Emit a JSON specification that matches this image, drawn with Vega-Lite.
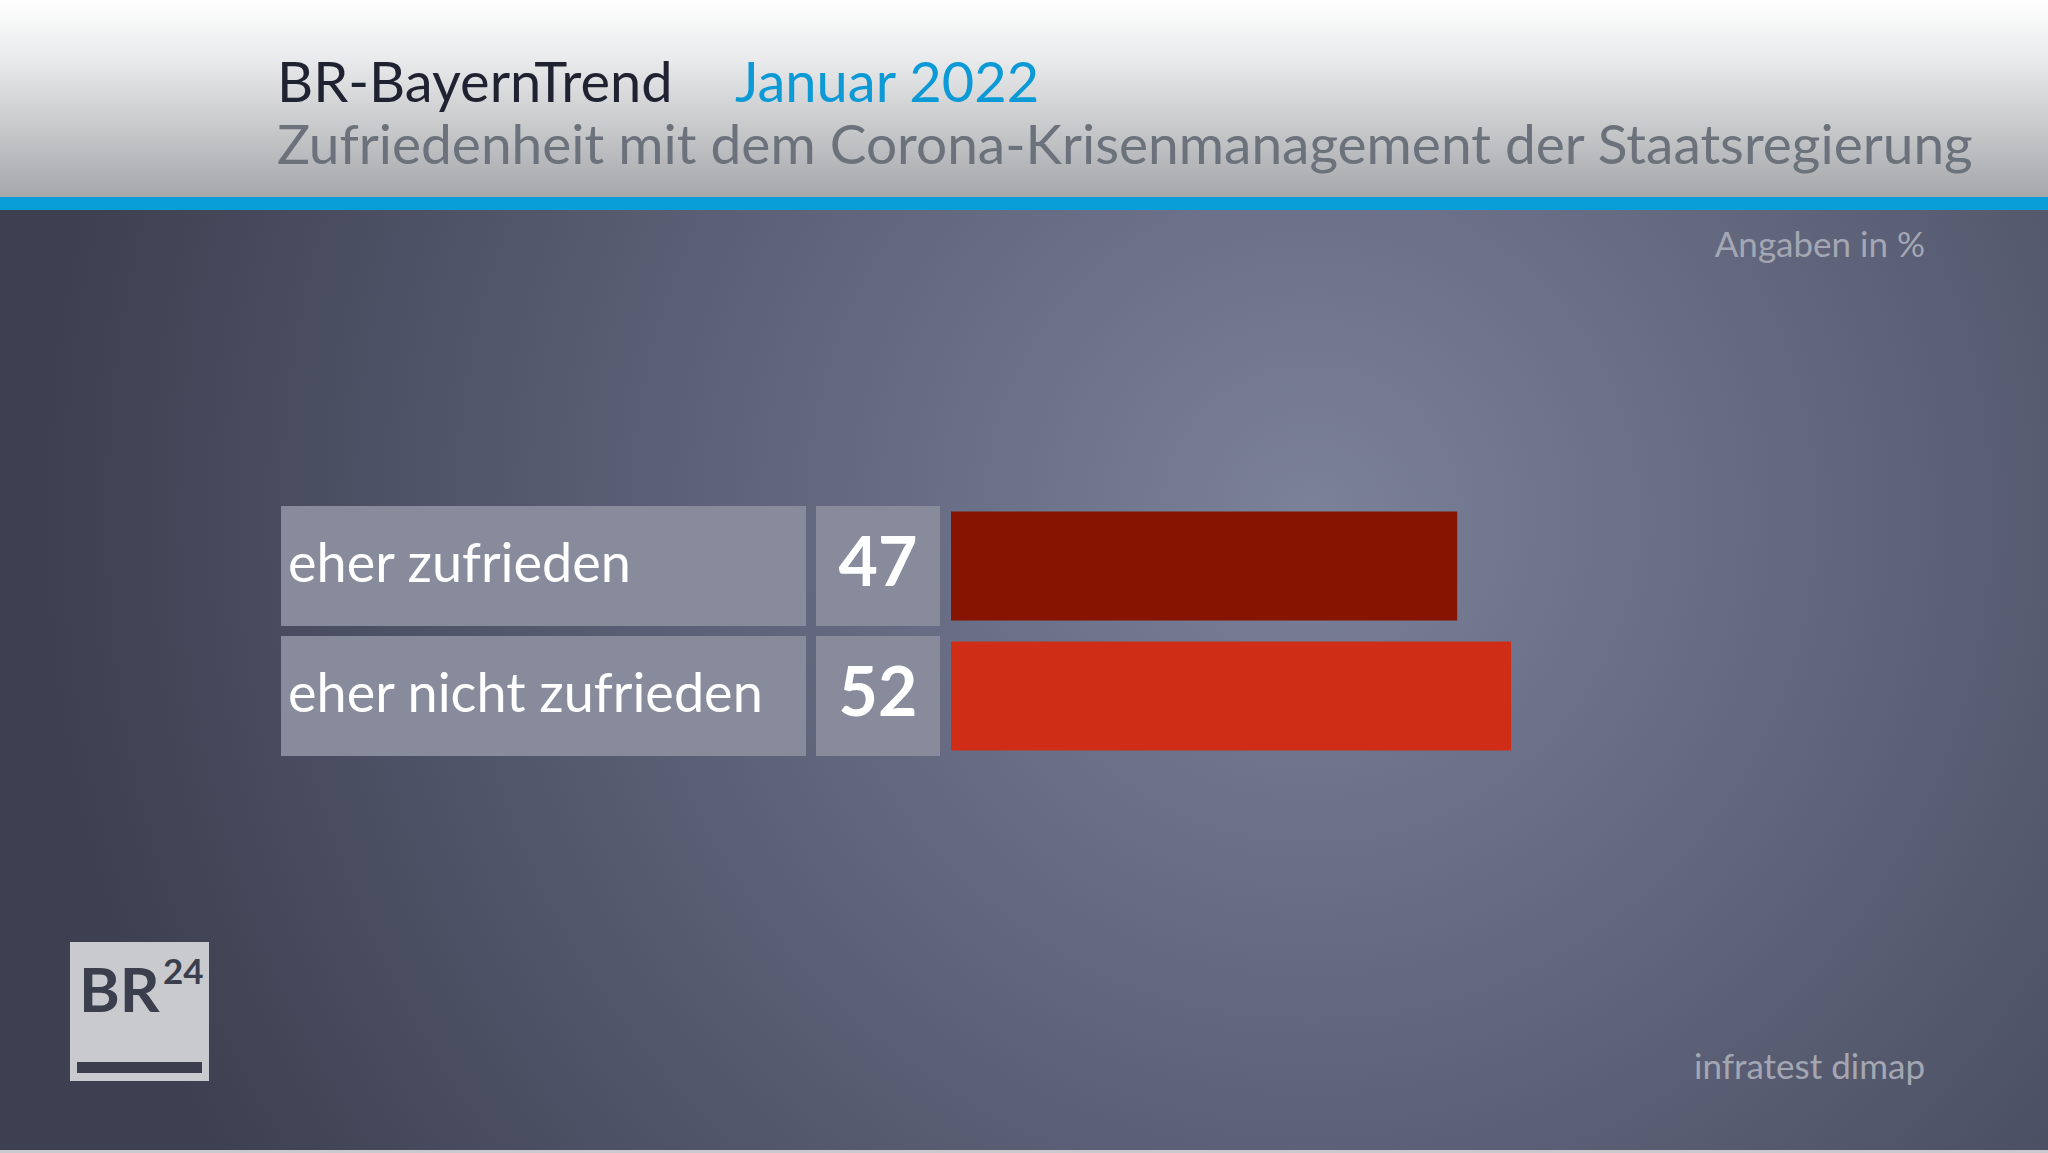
{
  "$schema": "https://vega.github.io/schema/vega-lite/v6.json",
  "width": 2048,
  "height": 1153,
  "autosize": {"type": "fit", "contains": "padding"},
  "padding": 0,
  "background": "#454a5e",
  "config": {"view": {"stroke": null}, "font": "Lato"},
  "layer": [
    {
      "data": {"values": [{}]},
      "mark": {"type": "rect", "fill": {"gradient": "radial", "x1": 0.64, "y1": 0.47, "r1": 0, "x2": 0.64, "y2": 0.47, "r2": 0.62, "stops": [{"offset": 0, "color": "#7b8199"}, {"offset": 0.45, "color": "#5f647b"}, {"offset": 1, "color": "#3d4050"}]}},
      "encoding": {"x": {"value": 0}, "x2": {"value": 2048}, "y": {"value": 0}, "y2": {"value": 1153}}
    },
    {
      "data": {"values": [{}]},
      "mark": {"type": "rect", "fill": "#c9cace"},
      "encoding": {"x": {"value": 0}, "x2": {"value": 2048}, "y": {"value": 1150}, "y2": {"value": 1153}}
    },
    {
      "data": {"values": [{}]},
      "mark": {"type": "rect", "fill": {"gradient": "linear", "x1": 0, "y1": 0, "x2": 0, "y2": 1, "stops": [{"offset": 0, "color": "#ffffff"}, {"offset": 0.3, "color": "#e9eaeb"}, {"offset": 1, "color": "#a5a7aa"}]}},
      "encoding": {"x": {"value": 0}, "x2": {"value": 2048}, "y": {"value": 0}, "y2": {"value": 197}}
    },
    {
      "data": {"values": [{}]},
      "mark": {"type": "rect", "fill": "#0a9ed8"},
      "encoding": {"x": {"value": 0}, "x2": {"value": 2048}, "y": {"value": 197}, "y2": {"value": 210}}
    },
    {
      "data": {"values": [{}]},
      "mark": {"type": "text", "text": "BR-BayernTrend", "font": "Lato", "fontSize": 56, "color": "#1f2231", "align": "left", "baseline": "alphabetic"},
      "encoding": {"x": {"value": 277}, "y": {"value": 102}}
    },
    {
      "data": {"values": [{}]},
      "mark": {"type": "text", "text": "Januar 2022", "font": "Lato", "fontSize": 56, "color": "#0b9ad6", "align": "left", "baseline": "alphabetic"},
      "encoding": {"x": {"value": 735}, "y": {"value": 102}}
    },
    {
      "data": {"values": [{}]},
      "mark": {"type": "text", "text": "Zufriedenheit mit dem Corona-Krisenmanagement der Staatsregierung", "font": "Lato", "fontSize": 55, "color": "#6b727c", "align": "left", "baseline": "alphabetic"},
      "encoding": {"x": {"value": 277}, "y": {"value": 164}}
    },
    {
      "data": {"values": [{}]},
      "mark": {"type": "text", "text": "Angaben in %", "font": "Lato", "fontSize": 35, "color": "#a4a7b3", "align": "right", "baseline": "alphabetic"},
      "encoding": {"x": {"value": 1925}, "y": {"value": 257}}
    },
    {
      "data": {"values": [{}]},
      "mark": {"type": "text", "text": "infratest dimap", "font": "Lato", "fontSize": 35, "color": "#a4a7b3", "align": "right", "baseline": "alphabetic"},
      "encoding": {"x": {"value": 1925}, "y": {"value": 1079}}
    },
    {
      "data": {"values": [{}]},
      "mark": {"type": "rect", "fill": "#c9cacd"},
      "encoding": {"x": {"value": 70}, "x2": {"value": 209}, "y": {"value": 942}, "y2": {"value": 1081}}
    },
    {
      "data": {"values": [{}]},
      "mark": {"type": "rect", "fill": "#3b3e4d"},
      "encoding": {"x": {"value": 77}, "x2": {"value": 202}, "y": {"value": 1062}, "y2": {"value": 1073}}
    },
    {
      "data": {"values": [{}]},
      "mark": {"type": "text", "text": "BR", "font": "Lato", "fontWeight": "bold", "fontSize": 62, "color": "#3b3e4d", "align": "left", "baseline": "alphabetic"},
      "encoding": {"x": {"value": 79}, "y": {"value": 1012}}
    },
    {
      "data": {"values": [{}]},
      "mark": {"type": "text", "text": "24", "font": "Lato", "fontWeight": "bold", "fontSize": 35, "color": "#3b3e4d", "align": "left", "baseline": "alphabetic"},
      "encoding": {"x": {"value": 163}, "y": {"value": 984}}
    },
    {
      "data": {"values": [
        {"antwort": "eher zufrieden", "wert": 47},
        {"antwort": "eher nicht zufrieden", "wert": 52}
      ]},
      "encoding": {
        "y": {"field": "antwort", "type": "nominal", "sort": null, "axis": null,
              "scale": {"type": "band", "domain": ["eher zufrieden", "eher nicht zufrieden"], "range": [506, 756], "paddingInner": 0.077, "paddingOuter": 0}}
      },
      "layer": [
        {
          "mark": {"type": "rect", "fill": "#878b9b"},
          "encoding": {"x": {"value": 281}, "x2": {"value": 806}}
        },
        {
          "mark": {"type": "rect", "fill": "#878b9b"},
          "encoding": {"x": {"value": 816}, "x2": {"value": 940}}
        },
        {
          "mark": {"type": "text", "font": "Lato", "fontSize": 54, "color": "#ffffff", "align": "left", "baseline": "middle"},
          "encoding": {"x": {"value": 288}, "text": {"field": "antwort"}}
        },
        {
          "mark": {"type": "text", "font": "Lato", "fontWeight": "bold", "fontSize": 68, "color": "#ffffff", "align": "center", "baseline": "middle"},
          "encoding": {"x": {"value": 878}, "text": {"field": "wert"}}
        },
        {
          "mark": {"type": "bar", "height": {"band": 0.91}},
          "encoding": {
            "x": {"field": "wert", "type": "quantitative", "axis": null, "scale": {"domain": [0, 100], "range": [951, 2028]}},
            "color": {"field": "antwort", "type": "nominal", "legend": null, "scale": {"domain": ["eher zufrieden", "eher nicht zufrieden"], "range": ["#861400", "#cf2d15"]}}
          }
        }
      ]
    }
  ]
}
